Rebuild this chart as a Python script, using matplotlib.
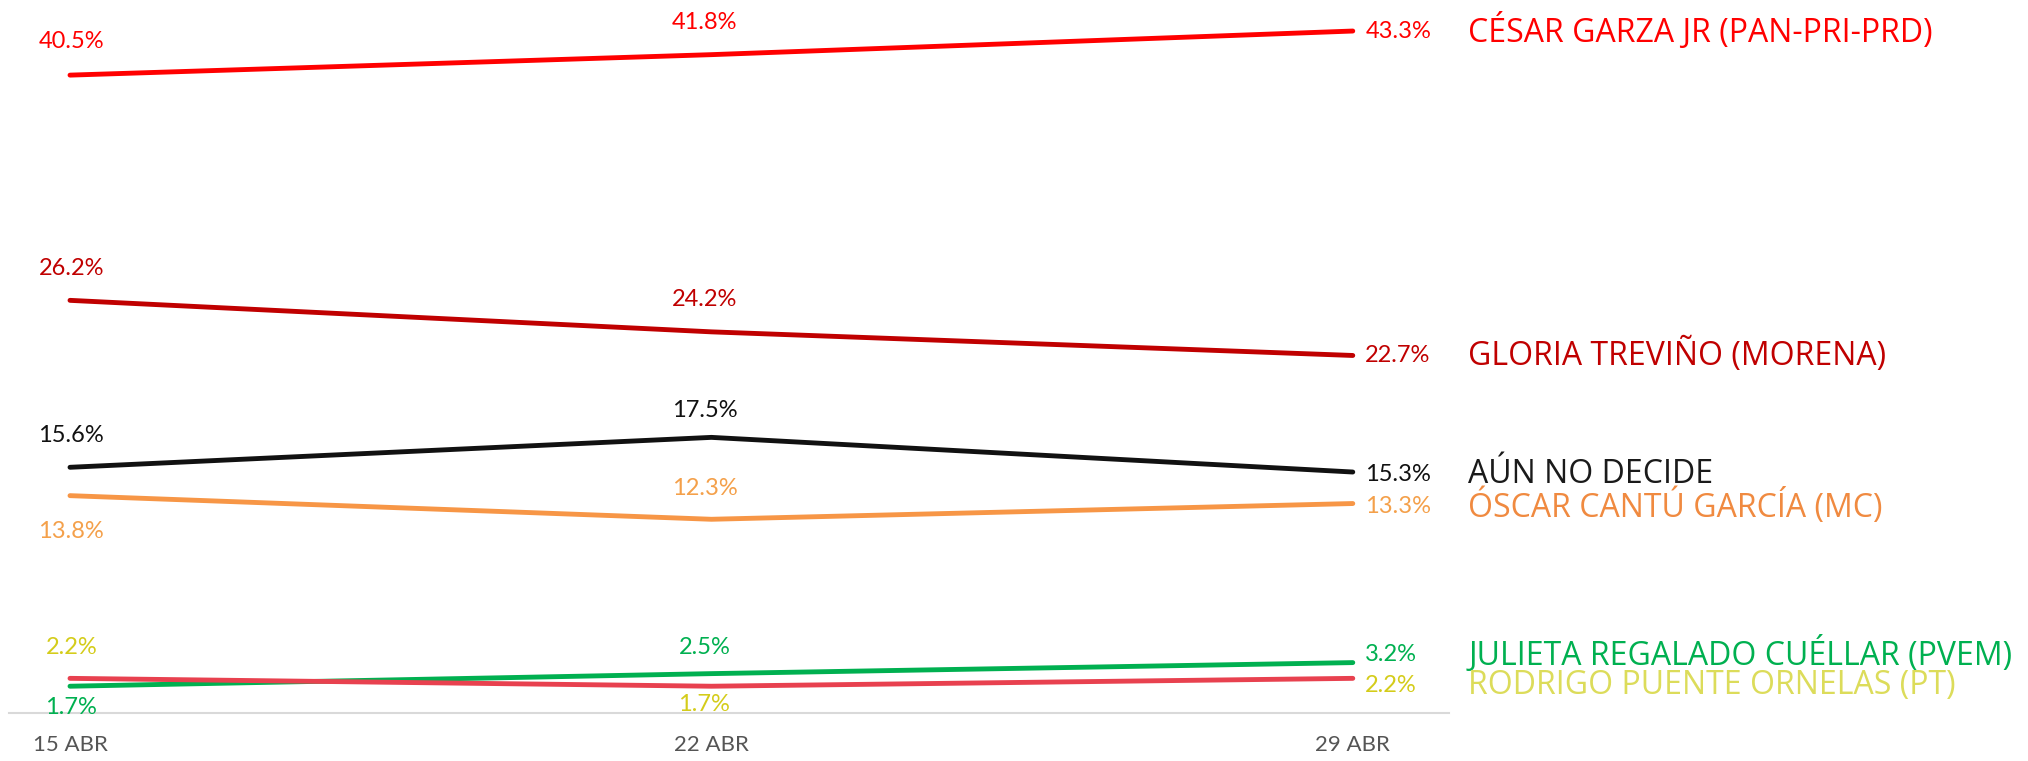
import matplotlib.pyplot as plt

plt.rcParams['font.family'] = ['Lato', 'DejaVu Sans']

# --- Data ---
dates = ['15 ABR', '22 ABR', '29 ABR']
names = [
    'CÉSAR GARZA JR (PAN-PRI-PRD)',
    'GLORIA TREVIÑO (MORENA)',
    'AÚN NO DECIDE',
    'ÓSCAR CANTÚ GARCÍA (MC)',
    'JULIETA REGALADO CUÉLLAR (PVEM)',
    'RODRIGO PUENTE ORNELAS (PT)',
]
cesar = [40.5, 41.8, 43.3]
gloria = [26.2, 24.2, 22.7]
no_decide = [15.6, 17.5, 15.3]
oscar = [13.8, 12.3, 13.3]
julieta = [1.7, 2.5, 3.2]
rodrigo = [2.2, 1.7, 2.2]
series = [cesar, gloria, no_decide, oscar, julieta, rodrigo]

# --- Styling ---
line_colors = ['#FF0000', '#C00000', '#111111', '#F79646', '#00B050', '#E8414F']
value_colors = ['#FF0000', '#C00000', '#111111', '#F4A04A', '#00B050', '#D4CC1A']
name_colors = ['#FF0000', '#C00000', '#1A1A1A', '#F08A40', '#00B050', '#DCDC5A']
# vertical offsets (points) of value labels at 15 ABR and 22 ABR
first_off = [24, 23, 23, -26, -15, 22]
mid_off = [23, 23, 19, 22, 19, -13]
# nudge (points) for the end labels / names to avoid overlap
end_nudge = [0, 0, -2, -2, 6, -5]

W, H = 2028, 761
fig = plt.figure(figsize=(W / 100, H / 100), dpi=100)
ax = fig.add_axes([9 / W, (H - 713) / H, 1440 / W, 713 / H])
ax.set_xlim(-0.0951, 2.150)
ax.set_ylim(0, 45.27)

x = range(len(dates))
for i, vals in enumerate(series):
    ax.plot(x, vals, color=line_colors[i], lw=3.5, solid_capstyle='round', zorder=3)
    ax.annotate(f'{vals[0]}%', (0, vals[0]), xytext=(1, first_off[i]),
                textcoords='offset points', ha='center', va='center',
                fontsize=17, color=value_colors[i])
    ax.annotate(f'{vals[1]}%', (1, vals[1]), xytext=(-5, mid_off[i]),
                textcoords='offset points', ha='center', va='center',
                fontsize=17, color=value_colors[i])
    ax.annotate(f'{vals[2]}%', (2, vals[2]), xytext=(9, end_nudge[i]),
                textcoords='offset points', ha='left', va='center',
                fontsize=17, color=value_colors[i])
    ax.annotate(names[i], (2, vals[2]), xytext=(83, end_nudge[i]),
                textcoords='offset points', ha='left', va='center',
                fontsize=23, color=name_colors[i], family='Open Sans',
                annotation_clip=False)

for s in ['top', 'right', 'left']:
    ax.spines[s].set_visible(False)
ax.spines['bottom'].set_color('#D9D9D9')
ax.spines['bottom'].set_linewidth(1.5)
ax.set_yticks([])
ax.set_xticks(list(x))
ax.set_xticklabels(dates, fontsize=16, color='#555555')
ax.tick_params(axis='x', length=0, pad=16)

fig.savefig('out.png', dpi=100)
